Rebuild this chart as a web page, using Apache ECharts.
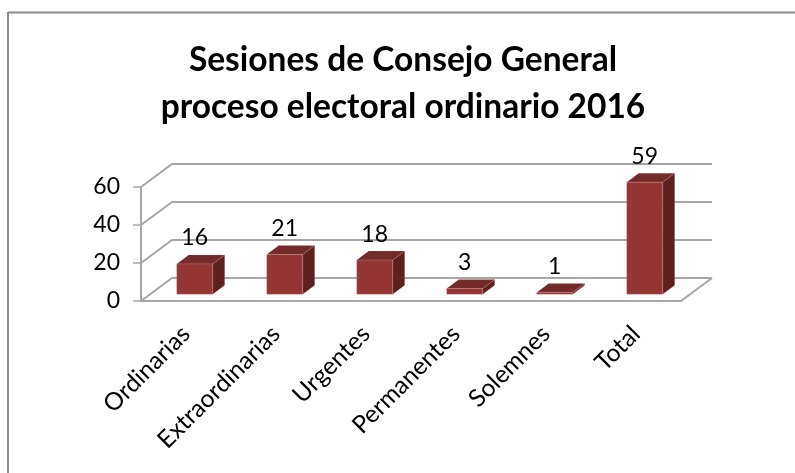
<!DOCTYPE html>
<html><head><meta charset="utf-8">
<style>html,body{margin:0;padding:0;background:#fff}#c{width:795px;height:473px}</style>
<script src="https://cdn.jsdelivr.net/npm/echarts@6/dist/echarts.min.js"></script>
</head><body><div id="c"></div>
<script>
const categories = ['Ordinarias','Extraordinarias','Urgentes','Permanentes','Solemnes','Total'];
const values = [16,21,18,3,1,59];
const yTicks = [0,20,40,60];
const titleLines = 'Sesiones de Consejo General\nproceso electoral ordinario 2016';

const FONT = 'Lato';
const WALL_DX = 31, WALL_DY = 23;      // depth of the floor
const BAR_DX = 8.7, BAR_DY = 6.7;      // front plane of the bars
const DEPTH_DX = 12, DEPTH_DY = 9;     // depth of each bar
const BAR_W = 36;
const GRID = '#a6a6a6';

function renderWall(params, api) {
  const v = api.value(0);
  const bandW = api.size([1, 0])[0];
  const left = api.coord([0, v]);
  const right = api.coord([categories.length - 1, v]);
  const x0 = left[0] - bandW / 2, x1 = right[0] + bandW / 2, y = left[1];
  const children = [{
    type: 'polyline',
    shape: { points: [[x0, y], [x0 + WALL_DX, y - WALL_DY], [x1 + WALL_DX, y - WALL_DY]] },
    style: { stroke: GRID, lineWidth: 2, fill: null }
  }];
  if (v === 0) children.push({
    type: 'line',
    shape: { x1: x1, y1: y, x2: x1 + WALL_DX, y2: y - WALL_DY },
    style: { stroke: GRID, lineWidth: 2 }
  });
  return { type: 'group', children };
}

function renderBar(params, api) {
  const i = api.value(0), v = api.value(1);
  const top = api.coord([i, v]), base = api.coord([i, 0]);
  const l = top[0] + BAR_DX - BAR_W / 2, r = l + BAR_W;
  const t = top[1] - BAR_DY, b = base[1] - BAR_DY;
  const edge = 'rgba(225,170,170,0.35)';
  return { type: 'group', children: [
    { type: 'polygon', shape: { points: [[r, t], [r + DEPTH_DX, t - DEPTH_DY], [r + DEPTH_DX, b - DEPTH_DY], [r, b]] },
      style: { fill: '#5f2120', stroke: edge, lineWidth: 0.5 } },
    { type: 'polygon', shape: { points: [[l, t], [l + DEPTH_DX, t - DEPTH_DY], [r + DEPTH_DX, t - DEPTH_DY], [r, t]] },
      style: { fill: '#722b2a', stroke: edge, lineWidth: 0.5 } },
    { type: 'rect', shape: { x: l, y: t, width: BAR_W, height: b - t },
      style: { fill: '#943634', stroke: edge, lineWidth: 0.7 } },
    { type: 'text', style: { text: String(v), x: l + BAR_W / 2, y: t - DEPTH_DY - 17, fill: '#000',
        font: '23px ' + FONT, align: 'center', verticalAlign: 'middle' } }
  ]};
}

const chart = echarts.init(document.getElementById('c'), null, { renderer: 'canvas' });
chart.setOption({
  animation: false,
  backgroundColor: '#fff',
  title: {
    text: titleLines, left: 398, top: 32, textAlign: 'center',
    textStyle: { fontFamily: FONT, fontWeight: 'bold', fontSize: 33.5, lineHeight: 47, color: '#000' }
  },
  graphic: [
    { type: 'line', shape: { x1: 8, y1: 12.5, x2: 795, y2: 12.5 }, style: { stroke: '#8c8c8c', lineWidth: 2 } },
    { type: 'line', shape: { x1: 8, y1: 12, x2: 8, y2: 473 }, style: { stroke: '#8c8c8c', lineWidth: 2 } }
  ],
  grid: { left: 141, right: 114, top: 187, bottom: 172 },
  xAxis: {
    type: 'category', data: categories,
    axisLine: { lineStyle: { color: GRID, width: 2 } },
    axisTick: { alignWithLabel: false, length: 8, lineStyle: { color: GRID, width: 1.5 } },
    axisLabel: { rotate: 45, interval: 0, margin: 29, fontFamily: FONT, fontSize: 24.5, color: '#000' }
  },
  yAxis: {
    type: 'value', min: 0, max: 60, interval: 20,
    axisLine: { show: true, lineStyle: { color: GRID, width: 2 } },
    axisTick: { show: true, length: 8, lineStyle: { color: GRID, width: 1.5 } },
    axisLabel: { margin: 21, fontFamily: FONT, fontSize: 23, color: '#000' },
    splitLine: { show: false }
  },
  series: [
    { type: 'custom', renderItem: renderWall, data: yTicks.map(v => [v]), encode: { y: 0 }, z: 1, silent: true, clip: false },
    { type: 'custom', renderItem: renderBar, data: values.map((v, i) => [i, v]), encode: { x: 0, y: 1 }, z: 3, clip: false }
  ]
});
</script></body></html>
